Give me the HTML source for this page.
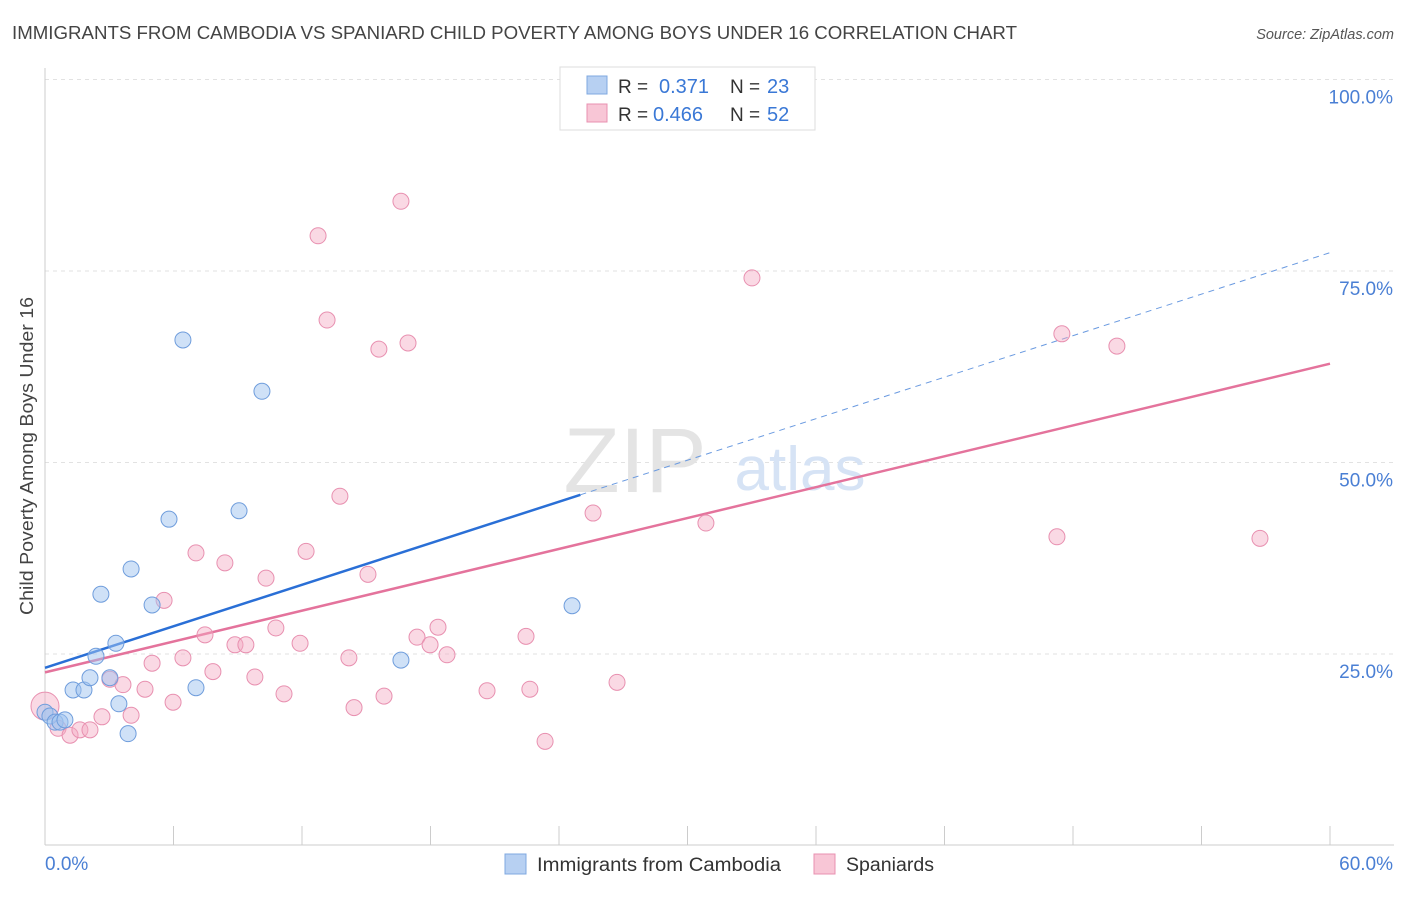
<!DOCTYPE html>
<html><head><meta charset="utf-8"><style>
body{margin:0;background:#fff;font-family:"Liberation Sans",sans-serif;}
svg text{font-family:"Liberation Sans",sans-serif;}
</style></head><body>
<svg id="chart" width="1406" height="892">
<text x="12" y="39" font-size="18" fill="#444" textLength="1005" lengthAdjust="spacingAndGlyphs">IMMIGRANTS FROM CAMBODIA VS SPANIARD CHILD POVERTY AMONG BOYS UNDER 16 CORRELATION CHART</text>
<text x="1394" y="39" font-size="14.5" fill="#555" font-style="italic" text-anchor="end">Source: ZipAtlas.com</text>
<text x="33" y="456" font-size="18" fill="#444" text-anchor="middle" textLength="318" lengthAdjust="spacingAndGlyphs" transform="rotate(-90 33 456)">Child Poverty Among Boys Under 16</text>
<g id="grid"></g>
<text x="635" y="492" font-size="92" fill="#e4e4e4" font-family="Liberation Serif" text-anchor="middle">ZIP</text>
<text x="800" y="490" font-size="62" fill="#d6e3f5" text-anchor="middle">atlas</text>
<g id="lines"></g>
<g id="points"></g>
<g>
<rect x="560" y="67" width="255" height="63" fill="#fff" stroke="#ddd"/>
<rect x="587" y="76" width="20" height="18" fill="#b7d0f2" stroke="#7fa8e0"/>
<rect x="587" y="104" width="20" height="18" fill="#f8c6d6" stroke="#e890b0"/>
<text x="618" y="93" font-size="19" fill="#333">R = </text><text x="659" y="93" font-size="20" fill="#3a78d6">0.371</text>
<text x="730" y="93" font-size="19" fill="#333">N = </text><text x="767" y="93" font-size="20" fill="#3a78d6">23</text>
<text x="618" y="121" font-size="19" fill="#333">R = </text><text x="653" y="121" font-size="20" fill="#3a78d6">0.466</text>
<text x="730" y="121" font-size="19" fill="#333">N = </text><text x="767" y="121" font-size="20" fill="#3a78d6">52</text>
</g>
<g>
<rect x="505" y="854" width="21" height="20" fill="#b7d0f2" stroke="#7fa8e0"/>
<text x="537" y="871" font-size="19" fill="#333" textLength="244" lengthAdjust="spacingAndGlyphs">Immigrants from Cambodia</text>
<rect x="814" y="854" width="21" height="20" fill="#f8c6d6" stroke="#e890b0"/>
<text x="846" y="871" font-size="19" fill="#333" textLength="88" lengthAdjust="spacingAndGlyphs">Spaniards</text>
</g>
</svg>
<script>
const xTickLabels=["0.0%","60.0%"];
const yTicks=[25,50,75,100];
const yTickLabels=["25.0%","50.0%","75.0%","100.0%"];
const blueX=[0,0.23,0.47,0.70,0.93,1.31,1.82,2.10,2.38,2.61,3.03,3.31,3.45,3.88,4.02,5.00,5.79,6.44,7.05,9.06,10.13,16.62,24.61];
const blueY=[17.4,16.9,16.1,16.1,16.4,20.3,20.3,21.9,24.7,32.8,21.9,26.4,18.5,14.6,36.1,31.4,42.6,66.0,20.6,43.7,59.3,24.2,31.3];
const pinkX=[0,0.61,1.17,1.63,2.10,2.66,3.03,3.64,4.02,4.67,5.00,5.56,5.98,6.44,7.05,7.47,7.84,8.40,8.87,9.38,9.80,10.32,10.78,11.16,11.91,12.19,12.75,13.17,13.77,14.19,14.43,15.08,15.59,15.83,16.62,16.95,17.37,17.98,18.35,18.77,20.64,22.46,22.64,23.35,25.59,26.71,30.86,33.01,47.25,47.48,50.05,56.73];
const pinkY=[18.2,15.3,14.4,15.1,15.1,16.8,21.7,21.0,17.0,20.4,23.8,32.0,18.7,24.5,38.2,27.5,22.7,36.9,26.2,26.2,22.0,34.9,28.4,19.8,26.4,38.4,79.6,68.6,45.6,24.5,18.0,35.4,64.8,19.5,84.1,65.6,27.2,26.2,28.5,24.9,20.2,27.3,20.4,13.6,43.4,21.3,42.1,74.1,40.3,66.8,65.2,40.1];
const blueLine=[23.2,77.4], blueSolidEnd=25.0;
const pinkLine=[22.6,62.9];
const NS="http://www.w3.org/2000/svg";
const sx=v=>45+v/60*1285, sy=v=>845.5-v/25*191.5;
function mk(p,tag,a){const e=document.createElementNS(NS,tag);for(const k in a)e.setAttribute(k,a[k]);p.appendChild(e);return e;}
const grid=document.getElementById('grid');
yTicks.forEach((t,i)=>{
 const l=mk(grid,'line',{x1:45,x2:1394,y1:sy(t),y2:sy(t),stroke:'#e2e2e2','stroke-dasharray':'4,4'});
 
 
 const tx=mk(grid,'text',{x:1393,y:sy(t)+24,'font-size':19,fill:'#4a7fd4','text-anchor':'end'});tx.textContent=yTickLabels[i];
 
 
});
const ax=mk(grid,'line',{x1:45,x2:1394,y1:845,y2:845,stroke:'#ccc'});


const ay=mk(grid,'line',{x1:45,x2:45,y1:68,y2:845,stroke:'#ccc'});


for(let i=0;i<=10;i++){const t=mk(grid,'line',{x1:sx(i*6),x2:sx(i*6),y1:826,y2:845,stroke:'#ccc'});
 
 }
[[0,'start',45],[60,'end',1393]].forEach((d,i)=>{const t=mk(grid,'text',{x:d[2],y:870,'font-size':19,fill:'#4a7fd4','text-anchor':d[1]});t.textContent=xTickLabels[i];
 
 });
const lines=document.getElementById('lines');
const by=x=>blueLine[0]+(blueLine[1]-blueLine[0])*x/60;
const b1=mk(lines,'line',{x1:sx(0),y1:sy(by(0)),x2:sx(blueSolidEnd),y2:sy(by(blueSolidEnd)),stroke:'#2a6fd6','stroke-width':2.5});


const b2=mk(lines,'line',{x1:sx(blueSolidEnd),y1:sy(by(blueSolidEnd)),x2:sx(60),y2:sy(by(60)),stroke:'#6a9ae0','stroke-width':1,'stroke-dasharray':'6,5'});


const p1=mk(lines,'line',{x1:sx(0),y1:sy(pinkLine[0]),x2:sx(60),y2:sy(pinkLine[1]),stroke:'#e4739c','stroke-width':2.5});


const pts=document.getElementById('points');
pinkX.forEach((x,i)=>{const c=mk(pts,'circle',{cx:sx(x),cy:sy(pinkY[i]),r:i==0?14:8,fill:'rgba(245,170,196,0.45)',stroke:'#e890b0','stroke-width':1});
 
 });
blueX.forEach((x,i)=>{const c=mk(pts,'circle',{cx:sx(x),cy:sy(blueY[i]),r:8,fill:'rgba(160,195,240,0.5)',stroke:'#6f9ddc','stroke-width':1});
 
 });
</script>
</body></html>
